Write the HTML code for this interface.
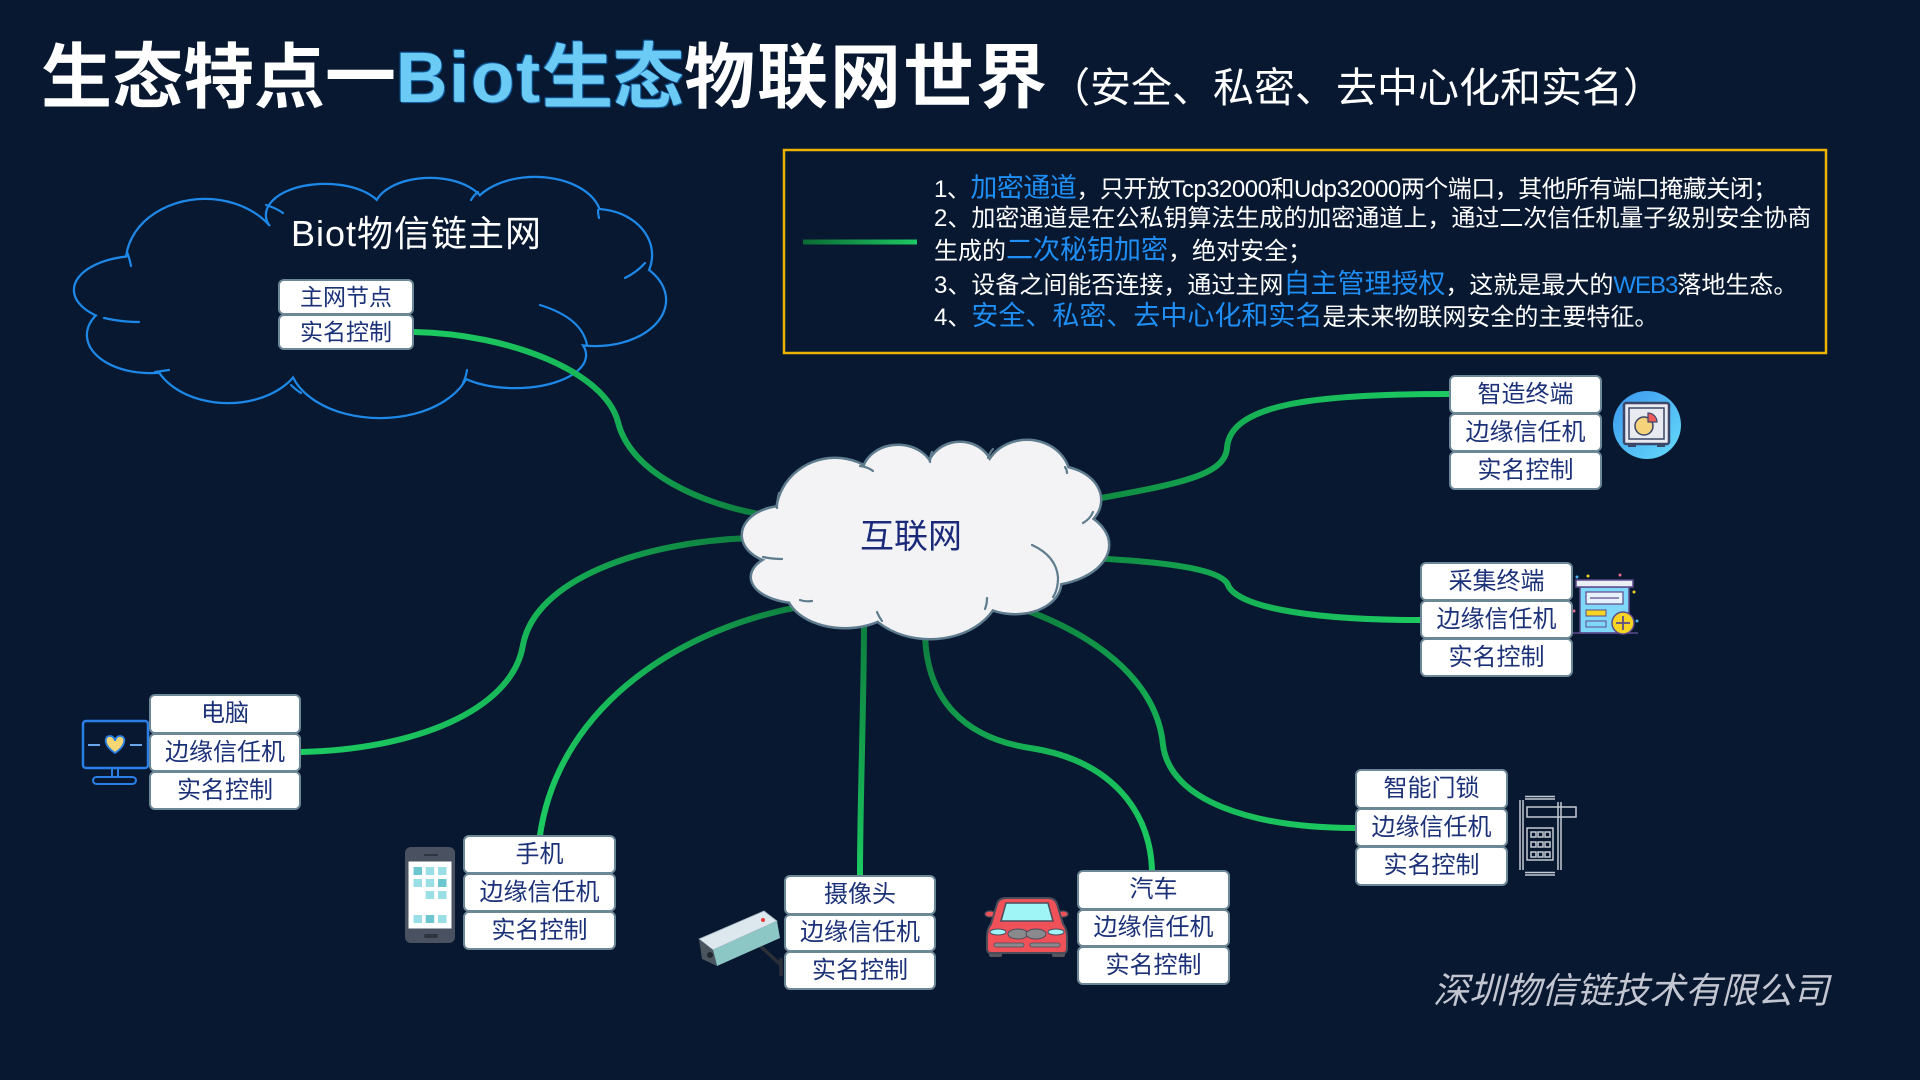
<!DOCTYPE html>
<html><head><meta charset="utf-8">
<style>
html,body{margin:0;padding:0;}
body{width:1920px;height:1080px;background:#071830;position:relative;overflow:hidden;font-family:"Liberation Sans","Noto Sans CJK SC",sans-serif;}
.abs{position:absolute;white-space:nowrap;}
.box{position:absolute;box-sizing:border-box;background:#fff;border:2px solid #6c8796;border-radius:6px;color:#1c3278;font-size:24px;display:flex;align-items:center;justify-content:center;line-height:1;white-space:nowrap;}
.bl{color:#6ccbf4;text-shadow:0 0 1px #1767ad,1px 1px 1px #1767ad,-1px -1px 1px #1767ad;}
.it{font-size:24px;line-height:30px;color:#fff;}
.hb{color:#1f8ef5;font-size:27px;}
svg{position:absolute;left:0;top:0;}
</style></head><body>
<svg width="1920" height="1080" viewBox="0 0 1920 1080">
<defs>
<g id="bc">
<ellipse cx="205" cy="262" rx="78" ry="62"/>
<ellipse cx="325" cy="215" rx="58" ry="30"/>
<ellipse cx="430" cy="210" rx="55" ry="31"/>
<ellipse cx="535" cy="218" rx="65" ry="40"/>
<ellipse cx="595" cy="255" rx="56" ry="45"/>
<ellipse cx="595" cy="300" rx="70" ry="45"/>
<ellipse cx="515" cy="355" rx="70" ry="32"/>
<ellipse cx="380" cy="360" rx="90" ry="57"/>
<ellipse cx="228" cy="350" rx="75" ry="52"/>
<ellipse cx="150" cy="335" rx="62" ry="37"/>
<ellipse cx="140" cy="290" rx="65" ry="33"/>
<ellipse cx="380" cy="290" rx="210" ry="75"/>
</g>
<g id="cc">
<ellipse cx="835" cy="515" rx="58" ry="56"/>
<ellipse cx="898" cy="475" rx="35" ry="29"/>
<ellipse cx="960" cy="472" rx="32" ry="29"/>
<ellipse cx="1027" cy="478" rx="42" ry="37"/>
<ellipse cx="1055" cy="500" rx="45" ry="33"/>
<ellipse cx="1040" cy="545" rx="68" ry="40"/>
<ellipse cx="1015" cy="583" rx="45" ry="30"/>
<ellipse cx="930" cy="585" rx="70" ry="53"/>
<ellipse cx="845" cy="590" rx="58" ry="37"/>
<ellipse cx="800" cy="577" rx="48" ry="25"/>
<ellipse cx="785" cy="535" rx="42" ry="28"/>
<ellipse cx="930" cy="540" rx="120" ry="60"/>
</g>
<linearGradient id="g1" gradientUnits="userSpaceOnUse" x1="760" y1="514" x2="414" y2="332"><stop offset="0" stop-color="#0e7f3f"/><stop offset="0.5" stop-color="#17b457"/><stop offset="1" stop-color="#1cca61"/></linearGradient>
<linearGradient id="g2" gradientUnits="userSpaceOnUse" x1="1098" y1="498" x2="1449" y2="394"><stop offset="0" stop-color="#0f8a42"/><stop offset="0.5" stop-color="#17b457"/><stop offset="1" stop-color="#1cca61"/></linearGradient>
<linearGradient id="g3" gradientUnits="userSpaceOnUse" x1="1096" y1="558" x2="1420" y2="620"><stop offset="0" stop-color="#0f8a42"/><stop offset="0.5" stop-color="#17b457"/><stop offset="1" stop-color="#1cca61"/></linearGradient>
<linearGradient id="g4" gradientUnits="userSpaceOnUse" x1="1028" y1="612" x2="1355" y2="828"><stop offset="0" stop-color="#0e7f3f"/><stop offset="0.5" stop-color="#17b457"/><stop offset="1" stop-color="#1cca61"/></linearGradient>
<linearGradient id="g5" gradientUnits="userSpaceOnUse" x1="925" y1="637" x2="1152" y2="870"><stop offset="0" stop-color="#0e7f3f"/><stop offset="0.5" stop-color="#17b457"/><stop offset="1" stop-color="#1cca61"/></linearGradient>
<linearGradient id="g6" gradientUnits="userSpaceOnUse" x1="864" y1="625" x2="860" y2="875"><stop offset="0" stop-color="#0e7f3f"/><stop offset="0.6" stop-color="#15a851"/><stop offset="1" stop-color="#1cca61"/></linearGradient>
<linearGradient id="g7" gradientUnits="userSpaceOnUse" x1="800" y1="607" x2="540" y2="835"><stop offset="0" stop-color="#0e7f3f"/><stop offset="0.5" stop-color="#17b457"/><stop offset="1" stop-color="#1cca61"/></linearGradient>
<linearGradient id="g8" gradientUnits="userSpaceOnUse" x1="745" y1="538" x2="301" y2="752"><stop offset="0" stop-color="#0e7f3f"/><stop offset="0.45" stop-color="#17b457"/><stop offset="1" stop-color="#1cca61"/></linearGradient>
<linearGradient id="gl" x1="0" y1="0" x2="1" y2="0"><stop offset="0" stop-color="#0b6a34"/><stop offset="1" stop-color="#1dc862"/></linearGradient>
<linearGradient id="gc" x1="0" y1="0" x2="1" y2="1"><stop offset="0" stop-color="#3a96ee"/><stop offset="1" stop-color="#66dcfb"/></linearGradient>
</defs>

<!-- blue cloud -->
<use href="#bc" fill="#071830" stroke="#1e88e8" stroke-width="4.5"/>
<use href="#bc" fill="#071830" stroke="none"/>
<g fill="none" stroke="#1e88e8" stroke-width="2.2" stroke-linecap="round">
<path d="M540,305 Q582,318 587,345"/>
<path d="M104,318 Q122,322 139,322"/>
<path d="M127,252 Q130,260 131,266"/>
<path d="M266,205 Q276,208 283,213"/>
<path d="M471,200 Q474,195 478,192"/>
<path d="M598,210 Q598,214 599,218"/>
<path d="M645,263 Q637,272 625,278"/>
<path d="M467,370 Q466,377 463,383"/>
<path d="M301,393 Q296,390 291,385"/>
<path d="M169,370 Q162,371 155,372"/>
</g>

<!-- connector lines -->
<g fill="none" stroke-width="6" stroke-linecap="round">
<path stroke="url(#g1)" d="M414,332 C510,334 605,372 618,422 C630,472 700,505 770,516"/>
<path stroke="url(#g2)" d="M1090,500 C1180,484 1225,475 1227,448 C1230,405 1310,394 1449,394"/>
<path stroke="url(#g3)" d="M1090,558 C1170,562 1222,570 1228,585 C1236,605 1300,620 1420,620"/>
<path stroke="url(#g4)" d="M1020,608 C1110,640 1158,690 1163,745 C1170,800 1250,828 1355,828"/>
<path stroke="url(#g5)" d="M925,630 C925,700 965,738 1030,748 C1110,760 1150,810 1152,870"/>
<path stroke="url(#g6)" d="M864,620 C864,700 860,800 860,875"/>
<path stroke="url(#g7)" d="M805,606 C690,625 560,700 540,835"/>
<path stroke="url(#g8)" d="M750,538 C640,542 535,580 523,645 C512,712 410,750 301,752"/>
</g>

<!-- central cloud -->
<use href="#cc" fill="#f3f3f6" stroke="#5e7c8d" stroke-width="5"/>
<use href="#cc" fill="#f3f3f6" stroke="none"/>
<g fill="none" stroke="#5e7c8d" stroke-width="2.2" stroke-linecap="round">
<path d="M860,466 Q868,467 873,471"/>
<path d="M930,462 Q930,456 932,452"/>
<path d="M988,458 Q990,452 993,449"/>
<path d="M1065,467 Q1067,470 1067,473"/>
<path d="M1093,512 Q1090,519 1083,523"/>
<path d="M1032,545 Q1056,556 1058,577 Q1058,590 1053,597"/>
<path d="M987,598 Q987,604 985,609"/>
<path d="M877,612 Q879,617 882,621"/>
<path d="M800,600 Q805,602 812,601"/>
<path d="M763,557 Q772,559 782,559"/>
<path d="M777,508 Q777,500 779,493"/>
</g>

<!-- info box -->
<rect x="784" y="150" width="1042" height="203" fill="none" stroke="#eeb300" stroke-width="2.5"/>
<rect x="803" y="239.5" width="114" height="5" fill="url(#gl)"/>

<!-- 智造 icon -->
<circle cx="1647" cy="425" r="34" fill="url(#gc)"/>
<rect x="1624" y="403" width="45" height="41" rx="2" fill="#e9eaf0" stroke="#3b4668" stroke-width="2.5"/>
<rect x="1629" y="408" width="35" height="31" fill="none" stroke="#3b4668" stroke-width="1.5"/>
<circle cx="1644" cy="426" r="9" fill="#f6d37a" stroke="#3b4668" stroke-width="1.5"/>
<path d="M1648,413 L1648,422 L1657,422 A9,9 0 0 0 1648,413 Z" fill="#ef5a5a" stroke="#3b4668" stroke-width="1.2"/>
<rect x="1628" y="444" width="8" height="3" fill="#3b4668"/>
<rect x="1657" y="444" width="8" height="3" fill="#3b4668"/>

<!-- 采集 icon -->
<circle cx="1577" cy="577" r="1.5" fill="#4fb3f0"/>
<circle cx="1588" cy="576" r="1.5" fill="#f5d422"/>
<circle cx="1620" cy="575" r="1.5" fill="#e86a8a"/>
<circle cx="1634" cy="592" r="1.5" fill="#f5d422"/>
<circle cx="1574" cy="611" r="1.5" fill="#e86a8a"/>
<circle cx="1637" cy="621" r="1.5" fill="#4fb3f0"/>
<rect x="1580" y="587" width="49" height="46" fill="#7fd8f7" stroke="#5d4a8c" stroke-width="1.5"/>
<rect x="1576" y="580" width="57" height="7" fill="#e9eef5" stroke="#5d4a8c" stroke-width="1.5"/>
<rect x="1586" y="592" width="37" height="12" fill="#e6f2fb" stroke="#5d4a8c" stroke-width="1.2"/>
<line x1="1590" y1="598" x2="1619" y2="598" stroke="#5d4a8c" stroke-width="1.2"/>
<rect x="1586" y="610" width="20" height="6" fill="#f5d422" stroke="#5d4a8c" stroke-width="1"/>
<rect x="1586" y="621" width="20" height="6" fill="#7fd8f7" stroke="#5d4a8c" stroke-width="1"/>
<line x1="1573" y1="633" x2="1638" y2="633" stroke="#5d4a8c" stroke-width="1.5"/>
<circle cx="1623" cy="623" r="11" fill="#f5d422" stroke="#5d4a8c" stroke-width="1.5"/>
<path d="M1623,616 V630 M1616,623 H1630" stroke="#5d4a8c" stroke-width="1.8"/>

<!-- computer icon -->
<rect x="83" y="721" width="65" height="47" rx="3" fill="none" stroke="#2a7fe6" stroke-width="2.5"/>
<path d="M115,753 C103,745 104,736 110,736 C113,736 115,739 115,741 C115,739 117,736 120,736 C126,736 127,745 115,753 Z" fill="#f7d774" stroke="#2a7fe6" stroke-width="1.8"/>
<line x1="88" y1="745" x2="100" y2="745" stroke="#6aa8ee" stroke-width="2"/>
<line x1="130" y1="745" x2="142" y2="745" stroke="#6aa8ee" stroke-width="2"/>
<rect x="112" y="768" width="6" height="9" fill="none" stroke="#2a7fe6" stroke-width="2"/>
<rect x="93" y="777" width="43" height="7" rx="3.5" fill="none" stroke="#2a7fe6" stroke-width="2"/>

<!-- phone icon -->
<rect x="405" y="847" width="50" height="96" rx="6" fill="#4a5262"/>
<rect x="408.5" y="861.5" width="43" height="67" fill="#ffffff"/>
<rect x="424" y="854" width="14" height="2" rx="1" fill="#2e3440"/>
<rect x="424" y="934" width="14" height="4" rx="2" fill="#2e3440"/>
<g fill="#9adfe6">
<rect x="413.5" y="867" width="8.5" height="8" fill="#6cc6d0"/><rect x="425.7" y="867" width="8.5" height="8"/><rect x="438" y="867" width="8.5" height="8"/>
<rect x="413.5" y="879" width="8.5" height="8"/><rect x="425.7" y="879" width="8.5" height="8"/><rect x="438" y="879" width="8.5" height="8" fill="#6cc6d0"/>
<rect x="425.7" y="891" width="8.5" height="8"/><rect x="438" y="891" width="8.5" height="8"/>
<rect x="413.5" y="915" width="8.5" height="8"/><rect x="425.7" y="915" width="8.5" height="8" fill="#6cc6d0"/><rect x="438" y="915" width="8.5" height="8"/>
</g>

<!-- camera icon -->
<path d="M758,944 L782,966 M781,958 V976" stroke="#2a2f38" stroke-width="3.5" fill="none"/>
<polygon points="699,939 764,911 777,921 713,950" fill="#dde7ee" stroke="#9fb0bb" stroke-width="0.8"/>
<polygon points="713,950 777,921 780,938 717,966" fill="#8cc7c5"/>
<polygon points="699,939 713,950 717,966 702,959" fill="#4a5560"/>
<circle cx="710" cy="955" r="3" fill="#23272e"/>
<circle cx="763" cy="920" r="2" fill="#e53935"/>

<!-- car icon -->
<ellipse cx="990" cy="914" rx="5" ry="3" fill="#ef5159" stroke="#4b4b5a" stroke-width="1.2"/>
<ellipse cx="1063" cy="914" rx="5" ry="3" fill="#ef5159" stroke="#4b4b5a" stroke-width="1.2"/>
<rect x="989" y="950" width="13" height="7" rx="2" fill="#55565f"/>
<rect x="1052" y="950" width="13" height="7" rx="2" fill="#55565f"/>
<path d="M991,924 L997,904 Q999,898 1006,898 L1048,898 Q1055,898 1057,904 L1063,924 Q1067,929 1067,937 L1067,949 Q1067,953 1063,953 L991,953 Q987,953 987,949 L987,937 Q987,929 991,924 Z" fill="#ef5159" stroke="#4b4b5a" stroke-width="2"/>
<path d="M1001,921 L1006,903 L1048,903 L1053,921 Z" fill="#9ff4f6" stroke="#4b4b5a" stroke-width="1.5"/>
<ellipse cx="998" cy="932" rx="8" ry="3" fill="#9ff4f6" stroke="#4b4b5a" stroke-width="1"/>
<ellipse cx="1056" cy="932" rx="8" ry="3" fill="#9ff4f6" stroke="#4b4b5a" stroke-width="1"/>
<ellipse cx="1018" cy="934" rx="10" ry="5" fill="#8a8a8e" stroke="#4b4b5a" stroke-width="1"/>
<ellipse cx="1036" cy="934" rx="10" ry="5" fill="#8a8a8e" stroke="#4b4b5a" stroke-width="1"/>
<rect x="994" y="943" width="30" height="4" rx="2" fill="#8a8a8e" stroke="#4b4b5a" stroke-width="0.8"/>
<rect x="1030" y="943" width="30" height="4" rx="2" fill="#8a8a8e" stroke="#4b4b5a" stroke-width="0.8"/>

<!-- lock icon -->
<g stroke="#c5cad3" stroke-width="1.5" fill="none">
<path d="M1520,800 V870 M1523,800 V870 M1558,802 V870 M1561,802 V870"/>
<path d="M1525,796.5 H1555 M1525,799 H1555"/>
<path d="M1525,872.5 H1555 M1525,875 H1555"/>
<rect x="1527" y="807" width="49" height="10"/>
<rect x="1527" y="828" width="26" height="32"/>
<rect x="1531" y="832" width="5" height="5"/><rect x="1538" y="832" width="5" height="5"/><rect x="1545" y="832" width="5" height="5"/>
<rect x="1531" y="842" width="5" height="5"/><rect x="1538" y="842" width="5" height="5"/><rect x="1545" y="842" width="5" height="5"/>
<rect x="1531" y="852" width="5" height="5"/><rect x="1538" y="852" width="5" height="5"/><rect x="1545" y="852" width="5" height="5"/>
</g>
</svg>

<!-- title -->
<div class="abs" style="left:41px;top:43px;font-size:71px;line-height:71px;font-weight:700;color:#fff;">生态特点一<span class="bl" style="letter-spacing:2px">Biot</span><span class="bl">生态</span><span style="letter-spacing:2px">物联网世界</span><span style="font-size:41px;font-weight:400;">（安全、私密、去中心化和实名）</span></div>

<!-- info text -->
<div class="abs it" style="left:934px;top:173px;letter-spacing:-0.5px;">1、<span class="hb">加密通道</span>，只开放Tcp32000和Udp32000两个端口，其他所有端口掩藏关闭；</div>
<div class="abs it" style="left:934px;top:204px;">2、加密通道是在公私钥算法生成的加密通道上，通过二次信任机量子级别安全协商</div>
<div class="abs it" style="left:934px;top:235px;">生成的<span class="hb">二次秘钥加密</span>，绝对安全；</div>
<div class="abs it" style="left:934px;top:269px;">3、设备之间能否连接，通过主网<span class="hb">自主管理授权</span>，这就是最大的<span class="hb" style="font-size:24px;letter-spacing:-1px;">WEB3</span>落地生态。</div>
<div class="abs it" style="left:934px;top:301px;">4、<span class="hb">安全、私密、去中心化和实名</span>是未来物联网安全的主要特征。</div>

<!-- blue cloud title -->
<div class="abs" style="left:291px;top:216px;font-size:36px;line-height:36px;color:#fff;letter-spacing:1px;">Biot物信链主网</div>

<!-- central cloud label -->
<div class="abs" style="left:860px;top:520px;font-size:34px;line-height:34px;color:#1b2a78;">互联网</div>

<!-- boxes -->
<div class="box" style="left:278px;top:279px;width:136px;height:36px;font-size:23px;">主网节点</div>
<div class="box" style="left:278px;top:314px;width:136px;height:36px;font-size:23px;">实名控制</div>

<div class="box" style="left:1449px;top:375px;width:153px;height:39px;">智造终端</div>
<div class="box" style="left:1449px;top:413px;width:153px;height:39px;">边缘信任机</div>
<div class="box" style="left:1449px;top:451px;width:153px;height:39px;">实名控制</div>

<div class="box" style="left:1420px;top:562px;width:153px;height:39px;">采集终端</div>
<div class="box" style="left:1420px;top:600px;width:153px;height:39px;">边缘信任机</div>
<div class="box" style="left:1420px;top:638px;width:153px;height:39px;">实名控制</div>

<div class="box" style="left:1355px;top:769px;width:153px;height:40px;">智能门锁</div>
<div class="box" style="left:1355px;top:808px;width:153px;height:39px;">边缘信任机</div>
<div class="box" style="left:1355px;top:846px;width:153px;height:40px;">实名控制</div>

<div class="box" style="left:1077px;top:870px;width:153px;height:40px;">汽车</div>
<div class="box" style="left:1077px;top:909px;width:153px;height:38px;">边缘信任机</div>
<div class="box" style="left:1077px;top:946px;width:153px;height:39px;">实名控制</div>

<div class="box" style="left:784px;top:875px;width:152px;height:40px;">摄像头</div>
<div class="box" style="left:784px;top:914px;width:152px;height:38px;">边缘信任机</div>
<div class="box" style="left:784px;top:951px;width:152px;height:39px;">实名控制</div>

<div class="box" style="left:463px;top:835px;width:153px;height:39px;">手机</div>
<div class="box" style="left:463px;top:873px;width:153px;height:39px;">边缘信任机</div>
<div class="box" style="left:463px;top:911px;width:153px;height:39px;">实名控制</div>

<div class="box" style="left:149px;top:694px;width:152px;height:40px;">电脑</div>
<div class="box" style="left:149px;top:733px;width:152px;height:39px;">边缘信任机</div>
<div class="box" style="left:149px;top:771px;width:152px;height:39px;">实名控制</div>

<!-- company -->
<div class="abs" style="left:1433px;top:973px;font-size:36px;line-height:36px;font-style:italic;color:#c3c6d1;">深圳物信链技术有限公司</div>
</body></html>
